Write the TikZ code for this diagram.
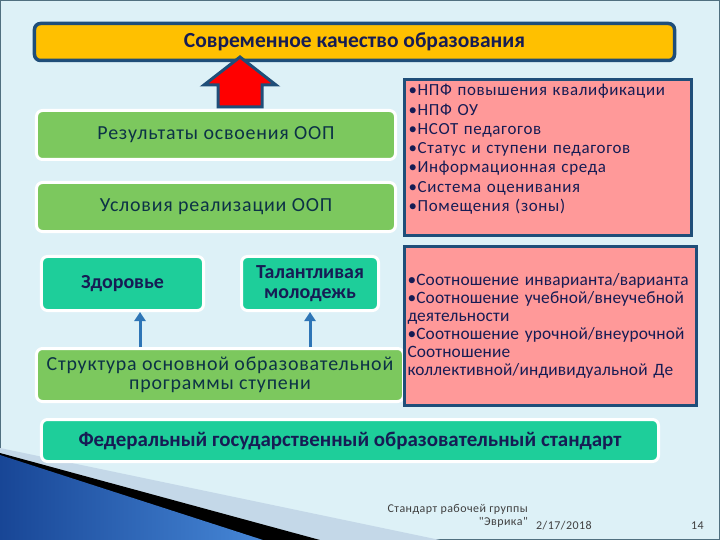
\documentclass[tikz,border=0pt]{standalone}
\usepackage{fontspec}
\setmainfont{Carlito}
\newfontfamily\listfont[LetterSpace=4]{Carlito}
\newfontfamily\ratiofont[LetterSpace=1]{Carlito}
\usepackage{xcolor}
\usetikzlibrary{calc, arrows.meta, positioning}
\definecolor{SlideBack}{RGB}{221,241,247}
\definecolor{SlideBand}{RGB}{196,216,232}
\definecolor{SlideFrame}{RGB}{80,112,128}
\definecolor{SlideNavy}{RGB}{31,78,121}
\definecolor{SlideGold}{RGB}{255,192,0}
\definecolor{SlideGreen}{RGB}{124,200,94}
\definecolor{SlideTeal}{RGB}{30,206,154}
\definecolor{SlidePink}{RGB}{255,153,153}
\definecolor{SlideInk}{RGB}{22,28,84}
\definecolor{SlideText}{RGB}{12,50,70}
\definecolor{SlideArrow}{RGB}{46,117,182}
\definecolor{WedgeDark}{RGB}{24,70,150}
\definecolor{WedgeLight}{RGB}{70,135,215}

\begin{document}
\begin{tikzpicture}[x=1bp, y=-1bp,
  node distance=20bp,
  base/.style={rectangle, rounded corners=6bp, inner sep=0pt, align=center},
  goldbox/.style={base, draw=SlideNavy, line width=3.5bp, fill=SlideGold, minimum width=640bp, minimum height=37bp, text=SlideInk, font=\fontsize{21.6}{24}\selectfont\bfseries},
  greenbox/.style={base, draw=white, line width=3bp, fill=SlideGreen, minimum width=359bp, minimum height=49bp, text=SlideText, font=\listfont\fontsize{20}{19}\selectfont},
  tealbox/.style={base, draw=white, line width=3bp, fill=SlideTeal, minimum height=54bp, text=SlideInk, font=\fontsize{20}{20}\selectfont\bfseries},
  pinkbox/.style={rectangle, draw=SlideNavy, line width=3bp, fill=SlidePink, inner xsep=4bp, inner ysep=2bp, align=left, text=SlideInk, font=\listfont\fontsize{17}{19.3}\selectfont},
  uparrow/.style={-{Triangle[length=9bp, width=11bp]}, line width=3bp, draw=SlideArrow},
  bigarrow/.style={draw=SlideNavy, line width=3bp, fill=red, line join=miter},
  footnote/.style={inner sep=0pt, text=black!75, font=\listfont\fontsize{12}{13.5}\selectfont}
]
  % slide background
  \fill[SlideBack] (0,0) rectangle (720,540);
  \draw[SlideFrame, line width=1.2bp] (0.6,0.6) rectangle (719.4,539.4);
  \fill[SlideBand] (0,448) -- (440,540) -- (0,540) -- cycle;
  \fill[black] (0,453) -- (320,540) -- (0,540) -- cycle;
  \shade[left color=WedgeDark, right color=WedgeLight] (0,455) -- (263,540) -- (0,540) -- cycle;

  \node[goldbox] (top) at (354.5,42) {Современное качество образования};
  \node[greenbox] (res) at (216,135) {Результаты освоения ООП};
  \node[greenbox, below=of res] (cond) {Условия реализации ООП};
  \node[tealbox, minimum width=162bp] (health) at (122.5,283.5) {Здоровье};
  \node[tealbox, minimum width=137bp, right=35bp of health] (talent) {Талантливая\\молодежь};
  \node[greenbox, minimum width=367bp, minimum height=53bp] (struct) at (220,375)
    {Структура основной образовательной\\программы ступени};

  \node[pinkbox, text width=279bp, minimum height=156bp] (npf) at (548,157.5)
    {•НПФ повышения квалификации\\•НПФ ОУ\\•НСОТ педагогов\\•Статус и ступени педагогов\\%
     •Информационная среда\\•Система оценивания\\•Помещения (зоны)\\\mbox{}};
  \node[pinkbox, inner xsep=3bp, text width=286bp, minimum height=159bp, font=\ratiofont\fontsize{17.4}{18.2}\selectfont] (ratio) at (550.5,326)
    {•Соотношение инварианта/варианта\\•Соотношение учебной/внеучебной\\деятельности\\%
     •Соотношение урочной/внеурочной\\Соотношение\\коллективной/индивидуальной Де};
  \node[tealbox, minimum width=617bp, minimum height=42bp, font=\fontsize{21}{22}\selectfont\bfseries] (fgos) at (350,440.5)
    {Федеральный государственный образовательный стандарт};

  \coordinate (foot) at ([xshift=24bp]res.north);
  \draw[bigarrow] (foot) ++(-22,-2) -- ++(0,-22) -- ++(-14,0) -- ++(36,-28) -- ++(36,28) -- ++(-14,0) -- ++(0,22) -- cycle;

  \draw[uparrow] ([xshift=-80bp]struct.north) -- ([xshift=-80bp]struct.north |- health.south);
  \draw[uparrow] ([xshift=90bp]struct.north) -- ([xshift=90bp]struct.north |- talent.south);

  \node[footnote, align=right, anchor=north east] (group) at (528,504) {Стандарт рабочей группы\\"Эврика"};
  \node[footnote, anchor=base west] (date) at (536,529) {2/17/2018};
  \node[footnote, anchor=base east] (page) at (704,529) {14};
\end{tikzpicture}
\end{document}
